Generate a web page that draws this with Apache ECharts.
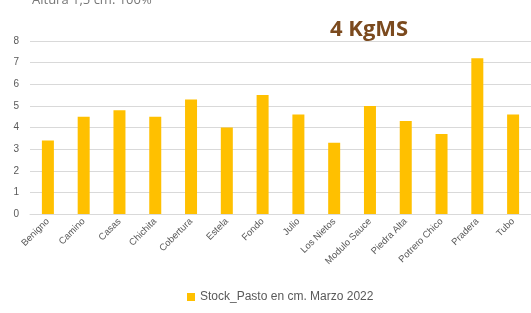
<!DOCTYPE html>
<html><head><meta charset="utf-8">
<script src="https://cdn.jsdelivr.net/npm/echarts@6/dist/echarts.min.js"></script>
<style>html,body{margin:0;padding:0;background:#fff}#c{width:531px;height:313px}</style>
</head><body><div id="c"></div>
<script>
const categories = ["Benigno","Camino","Casas","Chichita","Cobertura","Estela","Fondo","Julio","Los Nietos","Modulo Sauce","Piedra Alta","Potrero Chico","Pradera","Tubo"];
const stockValues = [3.4,4.5,4.8,4.5,5.3,4.0,5.5,4.6,3.3,5.0,4.3,3.7,7.2,4.6];
const seriesName = "Stock_Pasto en cm. Marzo 2022";
const chart = echarts.init(document.getElementById('c'));
chart.setOption({
  animation:false,
  title:[
    {text:"4 KgMS",left:325,top:14,textStyle:{fontFamily:"Open Sans",fontSize:22,fontWeight:'bold',color:'#7B4A1E'}},
    {text:"Altura 1,5 cm. 100%",left:27,top:-11,textStyle:{fontFamily:"Open Sans",fontSize:13,fontWeight:'normal',color:'#777'}}
  ],
  legend:{bottom:5,left:182,itemWidth:8,itemHeight:8,itemGap:4,icon:'rect',textStyle:{fontFamily:"Liberation Sans",fontSize:12,color:'#595959'},data:[seriesName]},
  grid:{left:30,right:-4,top:41,bottom:99},
  xAxis:{type:'category',data:categories,axisTick:{show:false},axisLine:{lineStyle:{color:'#d9d9d9'}},
    axisLabel:{rotate:45,interval:0,fontFamily:"Liberation Sans",fontSize:9.5,color:'#595959',margin:6}},
  yAxis:{type:'value',min:0,max:8,interval:1,axisLabel:{fontFamily:"Liberation Sans",fontSize:10,color:'#595959',margin:11},
    splitLine:{lineStyle:{color:'#d9d9d9'}}},
  series:[{name:seriesName,type:'bar',data:stockValues,barWidth:12,itemStyle:{color:'#FFC000'}}]
});
</script></body></html>
